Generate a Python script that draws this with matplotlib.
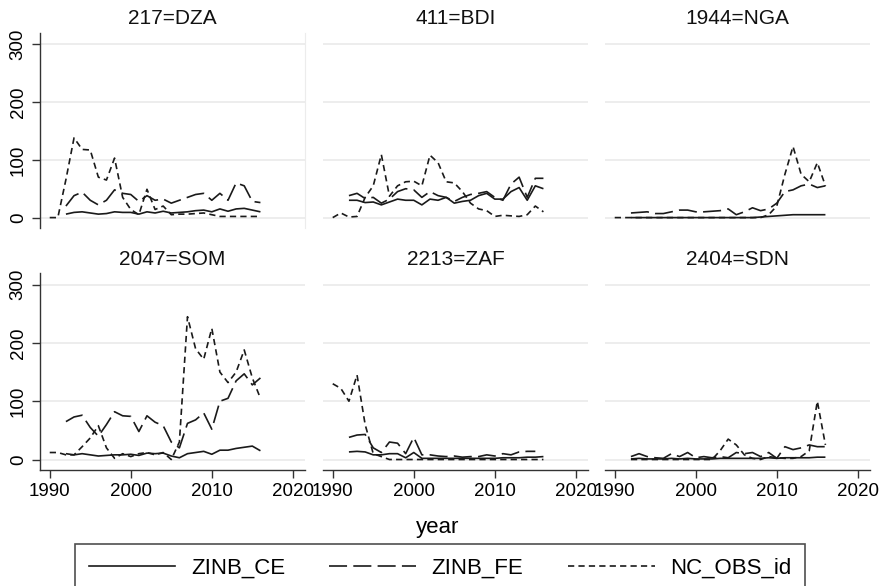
import numpy as np
import matplotlib
matplotlib.use("Agg")
import matplotlib.pyplot as plt
from matplotlib.lines import Line2D

plt.rcParams['font.family'] = ['Liberation Sans', 'DejaVu Sans']

# years
years_obs = np.arange(1990, 2017)
years_mod = np.arange(1992, 2017)
nan = np.nan

panels = ["217=DZA", "411=BDI", "1944=NGA", "2047=SOM", "2213=ZAF", "2404=SDN"]

# ZINB_CE (1992-2016)
ce_dza = [6, 9, 10, 8, 6, 7, 10, 9, 9, 6, 10, 8, 11, 8, 9, 10, 12, 13, 10, 15, 11, 15, 16, 13, 10]
ce_bdi = [30, 30, 26, 27, 22, 27, 32, 30, 30, 22, 32, 30, 35, 25, 28, 30, 38, 42, 32, 32, 45, 52, 30, 55, 50]
ce_nga = [0, 0, 0, 0, 0, 0, 0, 0, 0, 0, 0, 0, 0, 0, 0, 0, 1, 2, 3, 4, 5, 5, 5, 5, 5]
ce_som = [10, 8, 10, 8, 6, 7, 8, 8, 9, 7, 11, 10, 11, 6, 3, 10, 12, 14, 9, 16, 16, 19, 21, 23, 15]
ce_zaf = [13, 14, 13, 8, 8, 10, 10, 3, 12, 2, 2, 2, 2, 2, 2, 2, 2, 2, 2, 3, 3, 3, 4, 4, 5]
ce_sdn = [1, 2, 1, 1, 1, 2, 1, 2, 1, 1, 1, 2, 2, 2, 2, 2, 2, 3, 2, 3, 3, 3, 3, 4, 4]

# ZINB_FE (1992-2016)
fe_dza = [20, 38, 44, 30, 22, 30, 48, 42, 40, 28, 38, 30, 32, 25, 30, 35, 40, 42, 30, 42, 30, 60, 55, 28, 26]
fe_bdi = [38, 42, 33, 35, 25, 32, 45, 50, 48, 35, 45, 38, 35, 28, 35, 40, 42, 45, 35, 30, 58, 70, 35, 68, 68]
fe_nga = [8, 9, 10, 7, 7, 10, 13, 13, 10, 10, 11, 12, 15, 5, 10, 17, 12, 15, 25, 45, 48, 55, 58, 52, 55]
fe_som = [65, 73, 76, 55, 40, 60, 82, 75, 74, 48, 75, 64, 58, 30, 20, 62, 68, 80, 52, 100, 105, 135, 147, 128, 140]
fe_zaf = [38, 42, 43, 20, 12, 30, 28, 10, 38, 8, 8, 6, 5, 6, 4, 5, 5, 8, 6, 10, 8, 13, 14, 14, nan]
fe_sdn = [5, 10, 5, 3, 2, 10, 5, 12, 3, 5, 3, 5, 3, 12, 10, 12, 5, 12, 2, 22, 17, 20, 25, 22, 22]

# NC_OBS_id (1990-2016)
obs_dza = [0, 0, 66, 138, 118, 117, 70, 65, 103, 35, 14, 5, 49, 14, 20, 5, 6, 6, 7, 8, 5, 2, 2, 2, 2, 2, 2]
obs_bdi = [0, 8, 1, 2, 35, 55, 109, 37, 55, 62, 63, 55, 108, 95, 62, 60, 45, 25, 15, 12, 2, 4, 3, 2, 5, 20, 10]
obs_nga = [0] * 19 + [5, 20, 75, 123, 75, 62, 95, 55]
obs_som = [12, 12, 8, 8, 22, 37, 58, 20, 2, 10, 5, 10, 12, 8, 12, 0, 30, 245, 190, 172, 225, 150, 132, 150, 188, 140, 105]
obs_zaf = [130, 122, 100, 145, 60, 10, 5] + [0] * 20
obs_sdn = [nan, nan] + [0] * 11 + [15, 35, 25, 8, 2, 0, 5, 3, 2, 2, 5, 15, 100, 25]

ce_all = [ce_dza, ce_bdi, ce_nga, ce_som, ce_zaf, ce_sdn]
fe_all = [fe_dza, fe_bdi, fe_nga, fe_som, fe_zaf, fe_sdn]
obs_all = [obs_dza, obs_bdi, obs_nga, obs_som, obs_zaf, obs_sdn]

LC = "#1a1a1a"
LW = 1.2
FE_DASH = (13 / LW, 4.5 / LW)
OBS_DASH = (4.5 / LW, 3.0 / LW)

W, H = 884, 586
fig = plt.figure(figsize=(W / 100, H / 100), dpi=100)

lefts = [40, 323, 605]
pw = 265
rows = [(32.7, 228), (273, 470)]  # top, bottom in px

for i, name in enumerate(panels):
    r, c = divmod(i, 3)
    top, bot = rows[r]
    ax = fig.add_axes([lefts[c] / W, 1 - bot / H, pw / W, (bot - top) / H])
    ax.set_xlim(1988.8, 2021.5)
    ax.set_ylim(-18, 320)
    for g in [0, 100, 200, 300]:
        ax.axhline(g, color="#e8e8e8", lw=1.1, zorder=0)

    ax.plot(years_mod, ce_all[i], color=LC, lw=LW, solid_capstyle="butt")
    ax.plot(years_mod, fe_all[i], color=LC, lw=LW, dashes=FE_DASH)
    ax.plot(years_obs, obs_all[i], color=LC, lw=LW, dashes=OBS_DASH)

    ax.set_title(name, fontsize=15, pad=6, color="#111111")

    for s in ["top", "right", "left", "bottom"]:
        ax.spines[s].set_visible(False)

    ax.set_xticks([1990, 2000, 2010, 2020])
    ax.set_yticks([0, 100, 200, 300])
    if c == 0:
        ax.spines["left"].set_visible(True)
        ax.spines["left"].set_color("#333333")
        ax.spines["left"].set_linewidth(1.0)
        ax.tick_params(axis="y", length=5.5, width=1.0, color="#333333",
                       labelsize=13.5, pad=4)
        for lab in ax.get_yticklabels():
            lab.set_rotation(90)
            lab.set_va("center")
    else:
        ax.tick_params(axis="y", left=False, labelleft=False)
    if r == 1:
        ax.spines["bottom"].set_visible(True)
        ax.spines["bottom"].set_color("#333333")
        ax.spines["bottom"].set_linewidth(1.0)
        ax.tick_params(axis="x", length=5.5, width=1.0, color="#333333",
                       labelsize=13.5, pad=4)
    else:
        ax.tick_params(axis="x", bottom=False, labelbottom=False)
    if i == 0:
        ax.spines["right"].set_visible(True)
        ax.spines["right"].set_color("#ececec")

fig.text(438 / W, 1 - 527 / H, "year", fontsize=16, ha="center", va="center")

handles = [
    Line2D([], [], color=LC, lw=LW),
    Line2D([], [], color=LC, lw=LW, dashes=FE_DASH),
    Line2D([], [], color=LC, lw=LW, dashes=OBS_DASH),
]
leg = fig.legend(handles, ["ZINB_CE", "ZINB_FE", "NC_OBS_id"], ncol=3,
                 loc="upper center", bbox_to_anchor=(440 / W, 1 - 544 / H),
                 fontsize=16, frameon=True, fancybox=False, handlelength=3.9,
                 handletextpad=0.7, columnspacing=2.0, borderpad=0.6,
                 borderaxespad=0)
leg.get_frame().set_edgecolor("#222222")
leg.get_frame().set_linewidth(1.2)

fig.savefig("out.png", dpi=100)
